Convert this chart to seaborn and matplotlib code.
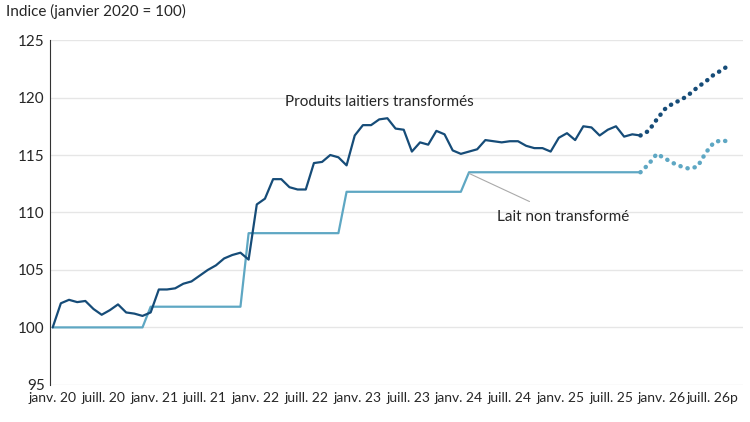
import numpy as np
import pandas as pd
import matplotlib.pyplot as plt
import seaborn as sns

# Monthly index values, janv. 2020 = 100
transformes = [
    100.0, 102.1, 102.4, 102.2, 102.3, 101.6, 101.1, 101.5, 102.0, 101.3, 101.2, 101.0,
    101.3, 103.3, 103.3, 103.4, 103.8, 104.0, 104.5, 105.0, 105.4, 106.0, 106.3, 106.5,
    105.9, 110.7, 111.2, 112.9, 112.9, 112.2, 112.0, 112.0, 114.3, 114.4, 115.0, 114.8,
    114.1, 116.7, 117.6, 117.6, 118.1, 118.2, 117.3, 117.2, 115.3, 116.1, 115.9, 117.1,
    116.8, 115.4, 115.1, 115.3, 115.5, 116.3, 116.2, 116.1, 116.2, 116.2, 115.8, 115.6,
    115.6, 115.3, 116.5, 116.9, 116.3, 117.5, 117.4, 116.7, 117.2, 117.5, 116.6, 116.8,
    116.7,
]
transformes_prev = [116.7, 117.1, 118.1, 119.0, 119.5, 119.8, 120.3, 120.9, 121.4, 122.0, 122.4, 122.9]

lait = [100.0] * 12 + [101.8] * 12 + [108.2] * 12 + [111.8] * 15 + [113.5] * 22
lait_prev = [113.5, 114.2, 115.1, 114.7, 114.3, 114.0, 113.8, 114.0, 115.2, 116.1, 116.3, 116.1]

tick_labels = ["janv. 20", "juill. 20", "janv. 21", "juill. 21", "janv. 22", "juill. 22",
               "janv. 23", "juill. 23", "janv. 24", "juill. 24", "janv. 25", "juill. 25",
               "janv. 26", "juill. 26p"]

dark = "#164c78"
light = "#5ea7c3"

n = len(transformes)
df_act = pd.DataFrame({"mois": np.arange(n), "t": transformes, "l": lait})
df_prev = pd.DataFrame({"mois": np.arange(n - 1, n - 1 + len(transformes_prev)),
                        "t": transformes_prev, "l": lait_prev})

sns.set_style("white")
plt.rcParams["font.family"] = ["Lato", "DejaVu Sans"]

fig, ax = plt.subplots(figsize=(7.5, 4.22), dpi=100)
fig.subplots_adjust(left=0.067, right=0.99, top=0.905, bottom=0.088)

dots = dict(linestyle=(0, (0.05, 1.6)), linewidth=3.2, dash_capstyle="round")
sns.lineplot(data=df_act, x="mois", y="l", color=light, linewidth=1.6, ax=ax)
sns.lineplot(data=df_act, x="mois", y="t", color=dark, linewidth=1.6, ax=ax)
sns.lineplot(data=df_prev, x="mois", y="l", color=light, ax=ax, **dots)
sns.lineplot(data=df_prev, x="mois", y="t", color=dark, ax=ax, **dots)

ax.set_ylim(95, 125)
ax.set_xlim(-0.3, 84.5)
ax.set_yticks(range(95, 126, 5))
ax.set_xticks(np.arange(len(tick_labels)) * 6.22)
ax.set_xticklabels(tick_labels)
ax.tick_params(axis="x", labelsize=10, length=0, pad=5)
ax.tick_params(axis="y", labelsize=11, length=0, pad=4)
ax.set_xlabel("")
ax.set_ylabel("")
ax.yaxis.grid(True, color="#e6e6e6", linewidth=1)
for s in ["top", "right", "bottom"]:
    ax.spines[s].set_visible(False)
ax.spines["left"].set_color("#333333")

fig.text(0.008, 0.955, "Indice (janvier 2020 = 100)", fontsize=11, ha="left", va="bottom")
ax.text(40, 119.0, "Produits laitiers transformés", fontsize=11, ha="center", va="bottom")
ax.annotate("Lait non transformé", xy=(51, 113.4), xytext=(62.5, 109.6),
            fontsize=11, ha="center", va="center",
            arrowprops=dict(arrowstyle="-", color="#aaaaaa", lw=0.8,
                            shrinkA=9, shrinkB=0))

plt.savefig("out.png", dpi=100)
